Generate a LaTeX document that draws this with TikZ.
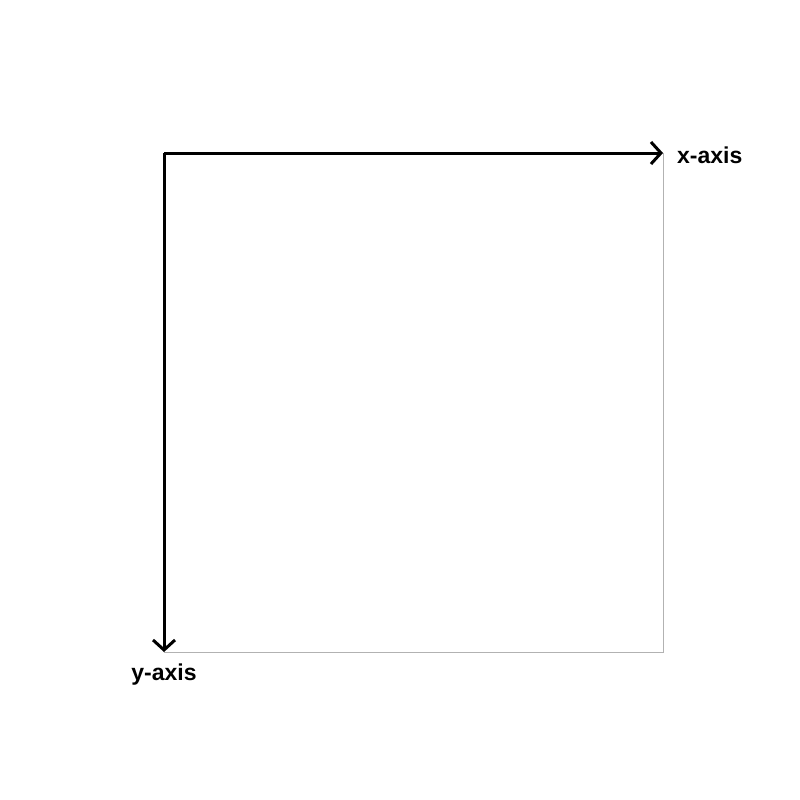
\documentclass[tikz,border=0pt]{standalone}
\usepackage{fontspec}
\setmainfont{Liberation Sans}
\usetikzlibrary{arrows.meta}
\begin{document}
\begin{tikzpicture}[x=1pt,y=-1pt,
  axis/.style={line width=3pt,-{Straight Barb[length=10pt,width=22pt,line width=3pt]}},
  frame/.style={draw=black!30,line width=1pt},
  lbl/.style={font=\bfseries\fontsize{23}{27}\selectfont,inner sep=0pt}]
\useasboundingbox (0,0) rectangle (800,800);
\coordinate (o) at (164,153);
\coordinate (xe) at (663,153);
\coordinate (ye) at (164,652);
\coordinate (c) at (663,652);
\draw[frame] (xe) -- (c) -- (ye);
\draw[axis] (o) -- (xe);
\draw[axis] (o) -- (ye);
\node[lbl,anchor=west] (xl) at (677,155) {x-axis};
\node[lbl] (yl) at (164,675) {y-axis};
\end{tikzpicture}
\end{document}
